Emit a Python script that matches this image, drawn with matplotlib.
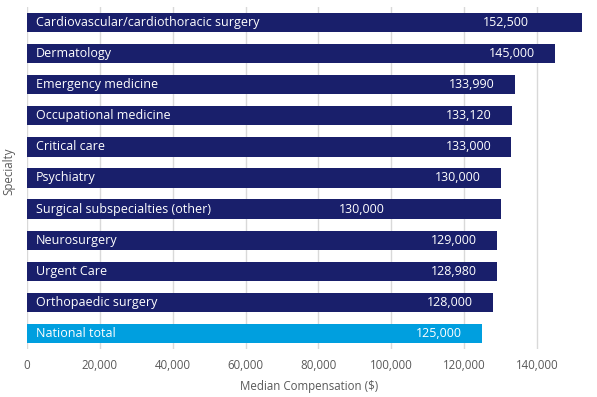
import matplotlib.pyplot as plt
from matplotlib.ticker import FuncFormatter

# data, top to bottom
specialties = [
    "Cardiovascular/cardiothoracic surgery",
    "Dermatology",
    "Emergency medicine",
    "Occupational medicine",
    "Critical care",
    "Psychiatry",
    "Surgical subspecialties (other)",
    "Neurosurgery",
    "Urgent Care",
    "Orthopaedic surgery",
    "National total",
]
compensation = [152500, 145000, 133990, 133120, 133000, 130000, 130000,
                129000, 128980, 128000, 125000]
value_labels = ["152,500", "145,000", "133,990", "133,120", "133,000", "130,000",
                "130,000", "129,000", "128,980", "128,000", "125,000"]

navy = "#191f6b"
light_blue = "#009fdf"
colors = [navy] * (len(specialties) - 1) + [light_blue]

# value label right edges that were moved by hand in the original
label_right_override = {0: 137800, 6: 98300}

plt.rcParams['font.family'] = ['Open Sans', 'DejaVu Sans']

fig = plt.figure(figsize=(5.97, 3.97), dpi=100)
ax = fig.add_axes([27 / 597, 48 / 397, (591.6 - 27) / 597, (349 - 7) / 397])

ypos = list(range(len(specialties)))
ax.barh(ypos, compensation, height=0.62, color=colors, zorder=2)

for i, (name, val, lab) in enumerate(zip(specialties, compensation, value_labels)):
    ax.text(2500, i, name, color="white", fontsize=9, va="center", ha="left", zorder=3)
    xr = label_right_override.get(i, val - 5500)
    ax.text(xr, i, lab, color="white", fontsize=9, va="center", ha="right", zorder=3)

ax.set_ylim(len(specialties) - 0.5, -0.5)
ax.set_xlim(0, 155000)
ax.set_yticks([])
ax.set_xticks(range(0, 140001, 20000))
ax.xaxis.set_major_formatter(FuncFormatter(lambda v, p: f"{int(v):,}"))
ax.tick_params(axis="x", length=0, labelsize=8.3, labelcolor="#595959", pad=7)
ax.grid(axis="x", color="#d9d9d9", linewidth=1, zorder=0)
for s in ax.spines.values():
    s.set_visible(False)

ax.set_xlabel("Median Compensation ($)", fontsize=8.3, color="#595959", labelpad=6)
fig.text(9 / 597, 1 - 171 / 397, "Specialty", fontsize=8.3, color="#595959",
         rotation=90, ha="center", va="center")

fig.savefig("out.png", dpi=100)
